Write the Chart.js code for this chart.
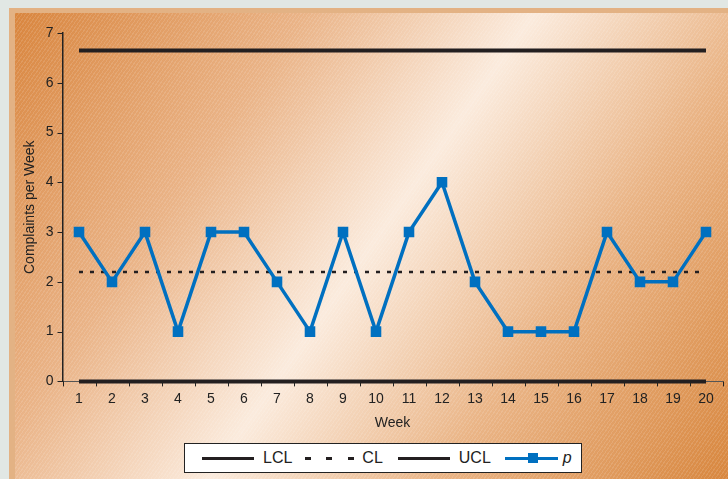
<!DOCTYPE html>
<html>
<head>
<meta charset="utf-8">
<script src="https://cdn.jsdelivr.net/npm/chart.js@4.4.1/dist/chart.umd.min.js"></script>
<style>
  html, body { margin: 0; padding: 0; width: 728px; height: 479px; overflow: hidden; background: #e1e7e4; }
  #frame {
    position: absolute; left: 9px; top: 8px; width: 719px; height: 471px;
    background: #e3b284;
  }
  #panel {
    position: absolute; left: 15px; top: 13px; width: 713px; height: 466px;
    background:
      repeating-linear-gradient(125deg, rgba(255,255,255,0.12) 0px, rgba(255,255,255,0.12) 1px, rgba(255,255,255,0) 1px, rgba(255,255,255,0) 3px),
      linear-gradient(125deg, #d9863f 0%, #eab488 28%, #fbebdd 50%, #eab587 72%, #d8873f 100%);
  }
  #wrap { position: absolute; left: 0; top: 0; width: 728px; height: 479px; }
  #legend {
    position: absolute; left: 184px; top: 443px; width: 398px; height: 30px;
    background: #fff; border: 1.5px solid #222; box-sizing: border-box;
    font-family: "Liberation Sans", Arial, sans-serif; font-size: 16px; color: #222;
    display: flex; align-items: center;
  }
  .item { display: flex; align-items: center; }
  .ln { width: 52px; height: 0; border-top: 3px solid #231f20; margin-right: 9px; }
  .dash { position: relative; width: 50px; height: 3px; margin-right: 8px; }
  .dash span { position: absolute; top: 0; width: 6px; height: 3px; background: #231f20; }
  .pl { position: relative; width: 53px; height: 3px; background: #0070c0; margin-right: 5px; }
  .pl span { position: absolute; left: 23px; top: -4px; width: 10px; height: 10px; background: #0070c0; }
</style>
</head>
<body>
<div id="frame"></div>
<div id="panel"></div>
<div id="wrap"><canvas id="chart" width="728" height="479"></canvas></div>
<div id="legend">
  <div class="item" style="margin-left:17px"><div class="ln"></div>LCL</div>
  <div class="item" style="margin-left:12px"><div class="dash"><span style="left:1px"></span><span style="left:22px"></span><span style="left:44px"></span></div>CL</div>
  <div class="item" style="margin-left:15px"><div class="ln"></div>UCL</div>
  <div class="item" style="margin-left:14px"><div class="pl"><span></span></div><i>p</i></div>
</div>
<script>
const weeks = ['1','2','3','4','5','6','7','8','9','10','11','12','13','14','15','16','17','18','19','20'];
const complaints = [3, 2, 3, 1, 3, 3, 2, 1, 3, 1, 3, 4, 2, 1, 1, 1, 3, 2, 2, 3];
const clValue = 2.2;
const uclValue = 6.65;
const lclValue = 0;
const yTicks = [0, 1, 2, 3, 4, 5, 6, 7];

const lclData = weeks.map(() => lclValue);
const clData = weeks.map(() => clValue);
const uclData = weeks.map(() => uclValue);

const font = { family: '"Liberation Sans", Arial, sans-serif', size: 14 };

const ctx = document.getElementById('chart').getContext('2d');
const chart = new Chart(ctx, {
    type: 'line',
    data: {
        labels: weeks,
        datasets: [
            {
                label: 'p',
                data: complaints,
                borderColor: '#0070c0',
                backgroundColor: '#0070c0',
                borderWidth: 3.5,
                pointStyle: 'rect',
                pointRadius: 5,
                pointHoverRadius: 5,
                tension: 0,
                clip: false,
                order: 0
            },
            {
                label: 'LCL',
                data: lclData,
                borderColor: '#231f20',
                borderWidth: 4,
                pointRadius: 0,
                clip: false,
                order: 1
            },
            {
                label: 'CL',
                data: clData,
                borderColor: '#231f20',
                borderWidth: 2.5,
                borderDash: [4, 7],
                pointRadius: 0,
                order: 1
            },
            {
                label: 'UCL',
                data: uclData,
                borderColor: '#231f20',
                borderWidth: 4,
                pointRadius: 0,
                order: 1
            }
        ]
    },
    options: {
        responsive: false,
        animation: false,
        layout: { autoPadding: false, padding: { left: 22, top: 33, right: 5.5, bottom: 43 } },
        plugins: { legend: { display: false }, tooltip: { enabled: false } },
        scales: {
            x: {
                offset: true,
                afterFit: (scale) => { scale.paddingLeft = 0; scale.paddingRight = 0; },
                grid: { display: false },
                border: { display: true, color: '#555', width: 1 },
                ticks: { color: '#222', font: font, padding: 1, maxRotation: 0, autoSkip: false },
                title: { display: true, text: 'Week', color: '#222', font: font, padding: { top: 7, bottom: 4 } }
            },
            y: {
                min: 0,
                max: 7,
                afterBuildTicks: (scale) => { scale.ticks = yTicks.map(v => ({ value: v })); },
                afterFit: (scale) => { scale.width = 40.5; },
                grid: { display: false },
                border: { display: true, color: '#222', width: 1.5 },
                ticks: { color: '#222', font: font, padding: 1 },
                title: { display: true, text: 'Complaints per Week', color: '#222', font: font, padding: 0 }
            }
        }
    },
    plugins: [{
        id: 'tickMarks',
        afterDraw(c) {
            const g = c.ctx;
            const xs = c.scales.x, ys = c.scales.y;
            const step = xs.getPixelForTick(1) - xs.getPixelForTick(0);
            g.save();
            g.strokeStyle = '#222';
            g.lineWidth = 1;
            g.beginPath();
            yTicks.forEach(v => {
                const py = Math.round(ys.getPixelForValue(v)) + 0.5;
                g.moveTo(ys.right - 5, py);
                g.lineTo(ys.right, py);
            });
            for (let i = 0; i <= weeks.length; i++) {
                const px = Math.round(xs.getPixelForTick(0) - step / 2 + i * step) + 0.5;
                g.moveTo(px, xs.top);
                g.lineTo(px, xs.top + 5);
            }
            g.stroke();
            g.restore();
        }
    }]
});
</script>
</body>
</html>
